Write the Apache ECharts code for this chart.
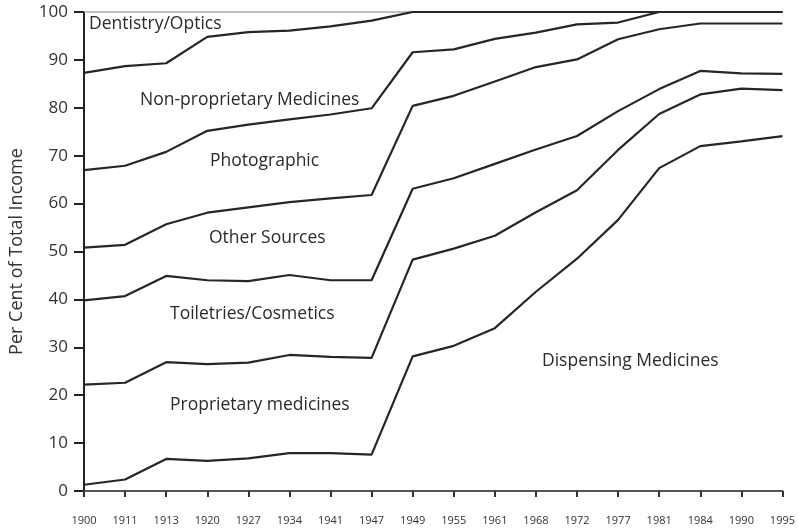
<!DOCTYPE html>
<html>
<head>
<meta charset="utf-8">
<script src="https://cdn.jsdelivr.net/npm/echarts/dist/echarts.min.js"></script>
<style>
  html, body { margin: 0; padding: 0; background: #fff; }
  #chart { width: 798px; height: 528px; }
</style>
</head>
<body>
<div id="chart"></div>
<script>
// survey years (x categories)
const years = ['1900', '1911', '1913', '1920', '1927', '1934', '1941', '1947', '1949',
  '1955', '1961', '1968', '1972', '1977', '1981', '1984', '1990', '1995']

// cumulative boundaries between income bands (per cent of total income)
const dentistryLower = [87.3, 88.7, 89.3, 94.8, 95.8, 96.1, 97.0, 98.2, 100, 100, 100, 100, 100, 100, 100, 100, 100, 100]
const nonPropLower = [67.0, 67.9, 70.8, 75.2, 76.5, 77.6, 78.6, 79.9, 91.6, 92.2, 94.4, 95.7, 97.4, 97.8, 100, 100, 100, 100]
const photoLower = [50.8, 51.4, 55.7, 58.1, 59.2, 60.3, 61.1, 61.8, 80.4, 82.5, 85.5, 88.5, 90.1, 94.3, 96.4, 97.6, 97.6, 97.6]
const otherLower = [39.8, 40.7, 44.9, 44.0, 43.8, 45.1, 44.0, 44.0, 63.1, 65.3, 68.3, 71.3, 74.1, 79.3, 83.9, 87.7, 87.2, 87.1]
const toiletriesLower = [22.2, 22.6, 26.9, 26.5, 26.8, 28.4, 28.0, 27.8, 48.3, 50.6, 53.3, 58.2, 62.8, 71.2, 78.7, 82.8, 84.0, 83.7]
const proprietaryLower = [1.3, 2.4, 6.7, 6.3, 6.8, 7.9, 7.9, 7.6, 28.1, 30.3, 34.0, 41.6, 48.5, 56.6, 67.4, 72.0, 73.0, 74.1]

const yTicks = [0, 10, 20, 30, 40, 50, 60, 70, 80, 90, 100]

const boundaries = [dentistryLower, nonPropLower, photoLower, otherLower, toiletriesLower, proprietaryLower]

// band names, placed inside their areas (left edge, vertical centre in px)
const bandLabels = [
  { text: 'Dentistry/Optics', x: 89, y: 24 },
  { text: 'Non-proprietary Medicines', x: 140, y: 100 },
  { text: 'Photographic', x: 210, y: 161 },
  { text: 'Other Sources', x: 209, y: 238 },
  { text: 'Toiletries/Cosmetics', x: 170, y: 314 },
  { text: 'Proprietary medicines', x: 170, y: 405 },
  { text: 'Dispensing Medicines', x: 542, y: 361 }
]

const FONT = '"Open Sans", "Noto Sans", sans-serif'
const chart = echarts.init(document.getElementById('chart'), null, { renderer: 'canvas' })

const option = {
  animation: false,
  backgroundColor: '#fff',
  grid: { left: 84, right: 11, top: 12, bottom: 37 },
  xAxis: [
    {
      type: 'category',
      data: years,
      boundaryGap: false,
      axisLine: { lineStyle: { color: '#555', width: 2 } },
      axisTick: { show: true, alignWithLabel: true, length: 6, lineStyle: { color: '#333', width: 2 } },
      axisLabel: { color: '#333', fontSize: 11, fontFamily: '"Liberation Sans Narrow", ' + FONT, margin: 24, interval: 0 }
    },
    {
      type: 'category',
      data: years,
      position: 'top',
      boundaryGap: false,
      axisLine: { lineStyle: { color: '#aaa', width: 1.5 } },
      axisTick: { show: false },
      axisLabel: { show: false }
    }
  ],
  yAxis: {
    type: 'value',
    min: 0,
    max: 100,
    interval: 10,
    name: 'Per Cent of Total Income',
    nameLocation: 'middle',
    nameGap: 58,
    nameTextStyle: { color: '#333', fontSize: 18, fontFamily: FONT },
    axisLine: { show: true, lineStyle: { color: '#222', width: 2 } },
    axisTick: { show: true, length: 10, lineStyle: { color: '#222', width: 2 } },
    axisLabel: { color: '#333', fontSize: 17, fontFamily: FONT, margin: 16,
      formatter: v => yTicks.includes(v) ? String(v) : '' },
    splitLine: { show: false }
  },
  series: boundaries.map(arr => ({
    type: 'line',
    data: arr,
    symbol: 'none',
    z: 3,
    lineStyle: { color: '#262626', width: 2.2 }
  })),
  graphic: bandLabels.map(l => ({
    type: 'text',
    x: l.x,
    y: l.y,
    style: { text: l.text, fill: '#2b2b2b', font: '17.5px ' + FONT, align: 'left', verticalAlign: 'middle' }
  }))
}

chart.setOption(option)
</script>
</body>
</html>
